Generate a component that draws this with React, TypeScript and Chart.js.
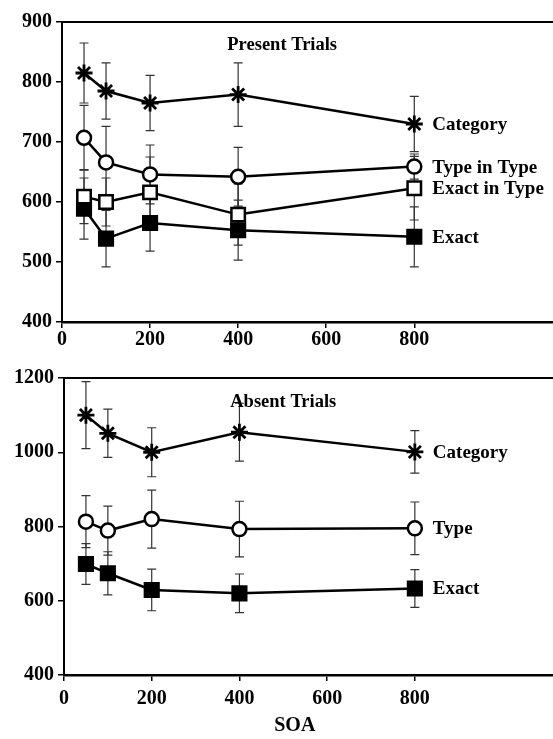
import React, { useEffect, useRef } from "react";
import { Chart, registerables } from "chart.js";

Chart.register(...registerables);

// SOA conditions (ms) and axis ticks
const soa = [50, 100, 200, 400, 800];
const xTicks = [0, 200, 400, 600, 800];
const presentYTicks = [400, 500, 600, 700, 800, 900];
const absentYTicks = [400, 600, 800, 1000, 1200];

// Present trials: mean RT and error
const presentCategory = [815, 785, 765, 779, 730];
const presentCategoryErr = [50, 47, 46, 53, 46];
const presentTypeInType = [707, 666, 646, 642, 659];
const presentTypeInTypeErr = [54, 60, 49, 49, 21];
const presentExactInType = [609, 600, 616, 579, 623];
const presentExactInTypeErr = [45, 40, 59, 51, 53];
const presentExact = [589, 539, 565, 553, 542];
const presentExactErr = [51, 47, 47, 50, 50];

// Absent trials: mean RT and error
const absentCategory = [1100, 1051, 1000, 1054, 1001];
const absentCategoryErr = [90, 65, 66, 78, 57];
const absentType = [813, 789, 820, 793, 795];
const absentTypeErr = [70, 66, 78, 75, 71];
const absentExact = [699, 674, 629, 620, 633];
const absentExactErr = [55, 58, 56, 52, 51];

const FONT_FAMILY = "'Liberation Serif', 'Times New Roman', serif";
const tickFont = { family: FONT_FAMILY, size: 20, weight: "bold" as const };

type Marker = "star" | "circle" | "openSquare" | "filledSquare";

interface Series {
  label: string;
  values: number[];
  errors: number[];
  marker: Marker;
}

function markerStyle(m: Marker) {
  switch (m) {
    case "star":
      return { pointStyle: "star", pointRadius: 8.5, pointBackgroundColor: "#000", pointBorderWidth: 2.8 };
    case "circle":
      return { pointStyle: "circle", pointRadius: 7, pointBackgroundColor: "#fff", pointBorderWidth: 2.5 };
    case "openSquare":
      return { pointStyle: "rect", pointRadius: 9.5, pointBackgroundColor: "#fff", pointBorderWidth: 2.5 };
    case "filledSquare":
      return { pointStyle: "rect", pointRadius: 10, pointBackgroundColor: "#000", pointBorderWidth: 2 };
  }
}

// Vertical error bars with caps, drawn beneath the lines and markers
const errorBarPlugin = {
  id: "errorBars",
  beforeDatasetsDraw(chart: any) {
    const { ctx } = chart;
    const y = chart.scales.y;
    ctx.save();
    ctx.strokeStyle = "#333";
    ctx.lineWidth = 1.2;
    chart.data.datasets.forEach((ds: any, i: number) => {
      const meta = chart.getDatasetMeta(i);
      meta.data.forEach((pt: any, j: number) => {
        const v = ds.data[j].y;
        const e = ds.errors[j];
        const top = y.getPixelForValue(v + e);
        const bot = y.getPixelForValue(v - e);
        const px = pt.x;
        ctx.beginPath();
        ctx.moveTo(px, top);
        ctx.lineTo(px, bot);
        ctx.moveTo(px - 4.5, top);
        ctx.lineTo(px + 4.5, top);
        ctx.moveTo(px - 4.5, bot);
        ctx.lineTo(px + 4.5, bot);
        ctx.stroke();
      });
    });
    ctx.restore();
  },
};

// Panel title, series names at the line ends, top frame line and axis title
const annotationPlugin = {
  id: "annotations",
  afterDatasetsDraw(chart: any, _args: any, opts: any) {
    const { ctx, chartArea } = chart;
    const x = chart.scales.x;
    ctx.save();
    ctx.fillStyle = "#000";

    // top frame line
    ctx.strokeStyle = "#000";
    ctx.lineWidth = 2;
    ctx.beginPath();
    ctx.moveTo(chartArea.left - 1, chartArea.top);
    ctx.lineTo(chartArea.right, chartArea.top);
    ctx.stroke();

    // panel title
    ctx.font = `bold 18.5px ${FONT_FAMILY}`;
    ctx.textAlign = "center";
    ctx.textBaseline = "middle";
    ctx.fillText(opts.title, x.getPixelForValue(500), chartArea.top + opts.titleOffset);

    // series names
    ctx.font = `bold 19px ${FONT_FAMILY}`;
    ctx.textAlign = "left";
    chart.data.datasets.forEach((ds: any, i: number) => {
      const meta = chart.getDatasetMeta(i);
      const last = meta.data[meta.data.length - 1];
      ctx.fillText(ds.label, last.x + 18, last.y + 1);
    });

    if (opts.axisTitle) {
      ctx.font = `bold 20px ${FONT_FAMILY}`;
      ctx.textAlign = "center";
      ctx.textBaseline = "middle";
      ctx.fillText(opts.axisTitle, chartArea.left + (chartArea.right - chartArea.left) * 0.472, chart.height - 13);
    }
    ctx.restore();
  },
};

interface PanelProps {
  title: string;
  series: Series[];
  yTicks: number[];
  top: number;
  height: number;
  padTop: number;
  yAxisWidth: number;
  xAxisHeight: number;
  xTickPadding: number;
  titleOffset: number;
  axisTitle?: string;
}

function Panel(p: PanelProps) {
  const ref = useRef<HTMLCanvasElement | null>(null);
  useEffect(() => {
    if (!ref.current) return;
    const chart = new Chart(ref.current, {
      type: "line",
      data: {
        datasets: p.series.map((s) => ({
          label: s.label,
          data: soa.map((x, i) => ({ x, y: s.values[i] })),
          errors: s.errors,
          borderColor: "#000",
          borderWidth: 2.5,
          pointBorderColor: "#000",
          fill: false,
          tension: 0,
          ...markerStyle(s.marker),
        })) as any,
      },
      options: {
        animation: false,
        responsive: false,
        events: [],
        layout: { autoPadding: false, padding: { top: p.padTop, left: 0, right: 0, bottom: 0 } },
        plugins: {
          legend: { display: false },
          tooltip: { enabled: false },
          annotations: { title: p.title, titleOffset: p.titleOffset, axisTitle: p.axisTitle },
        } as any,
        scales: {
          x: {
            type: "linear",
            min: 0,
            max: 1115,
            afterBuildTicks: (s: any) => {
              s.ticks = xTicks.map((value) => ({ value }));
            },
            afterFit: (s: any) => {
              s.height = p.xAxisHeight;
            },
            grid: { drawOnChartArea: false, drawTicks: true, tickLength: 6, color: "#000", lineWidth: 1.5 },
            border: { color: "#000", width: 2.5 },
            ticks: { color: "#000", font: tickFont, padding: p.xTickPadding, maxRotation: 0, autoSkip: false, callback: (v: any) => String(v) },
          },
          y: {
            type: "linear",
            min: p.yTicks[0],
            max: p.yTicks[p.yTicks.length - 1],
            afterBuildTicks: (s: any) => {
              s.ticks = p.yTicks.map((value) => ({ value }));
            },
            afterFit: (s: any) => {
              s.width = p.yAxisWidth;
            },
            grid: { drawOnChartArea: false, drawTicks: true, tickLength: 6, color: "#000", lineWidth: 1.5 },
            border: { color: "#000", width: 2 },
            ticks: { color: "#000", font: tickFont, padding: 4, autoSkip: false, callback: (v: any) => String(v) },
          },
        },
      },
      plugins: [errorBarPlugin, annotationPlugin],
    });
    return () => chart.destroy();
  }, []);
  return (
    <canvas
      ref={ref}
      width={553}
      height={p.height}
      style={{ position: "absolute", left: 0, top: p.top, width: 553, height: p.height }}
    />
  );
}

const presentSeries: Series[] = [
  { label: "Category", values: presentCategory, errors: presentCategoryErr, marker: "star" },
  { label: "Type in Type", values: presentTypeInType, errors: presentTypeInTypeErr, marker: "circle" },
  { label: "Exact in Type", values: presentExactInType, errors: presentExactInTypeErr, marker: "openSquare" },
  { label: "Exact", values: presentExact, errors: presentExactErr, marker: "filledSquare" },
];

const absentSeries: Series[] = [
  { label: "Category", values: absentCategory, errors: absentCategoryErr, marker: "star" },
  { label: "Type", values: absentType, errors: absentTypeErr, marker: "circle" },
  { label: "Exact", values: absentExact, errors: absentExactErr, marker: "filledSquare" },
];

export default function App() {
  return (
    <div style={{ position: "absolute", left: 0, top: 0, width: 553, height: 739, background: "#fff", overflow: "hidden" }}>
      <Panel
        title="Present Trials"
        series={presentSeries}
        yTicks={presentYTicks}
        top={0}
        height={350}
        padTop={22}
        yAxisWidth={62}
        xAxisHeight={28}
        xTickPadding={0}
        titleOffset={23}
      />
      <Panel
        title="Absent Trials"
        series={absentSeries}
        yTicks={absentYTicks}
        top={350}
        height={389}
        padTop={28}
        yAxisWidth={64}
        xAxisHeight={64}
        xTickPadding={6}
        titleOffset={24}
        axisTitle="SOA"
      />
    </div>
  );
}
